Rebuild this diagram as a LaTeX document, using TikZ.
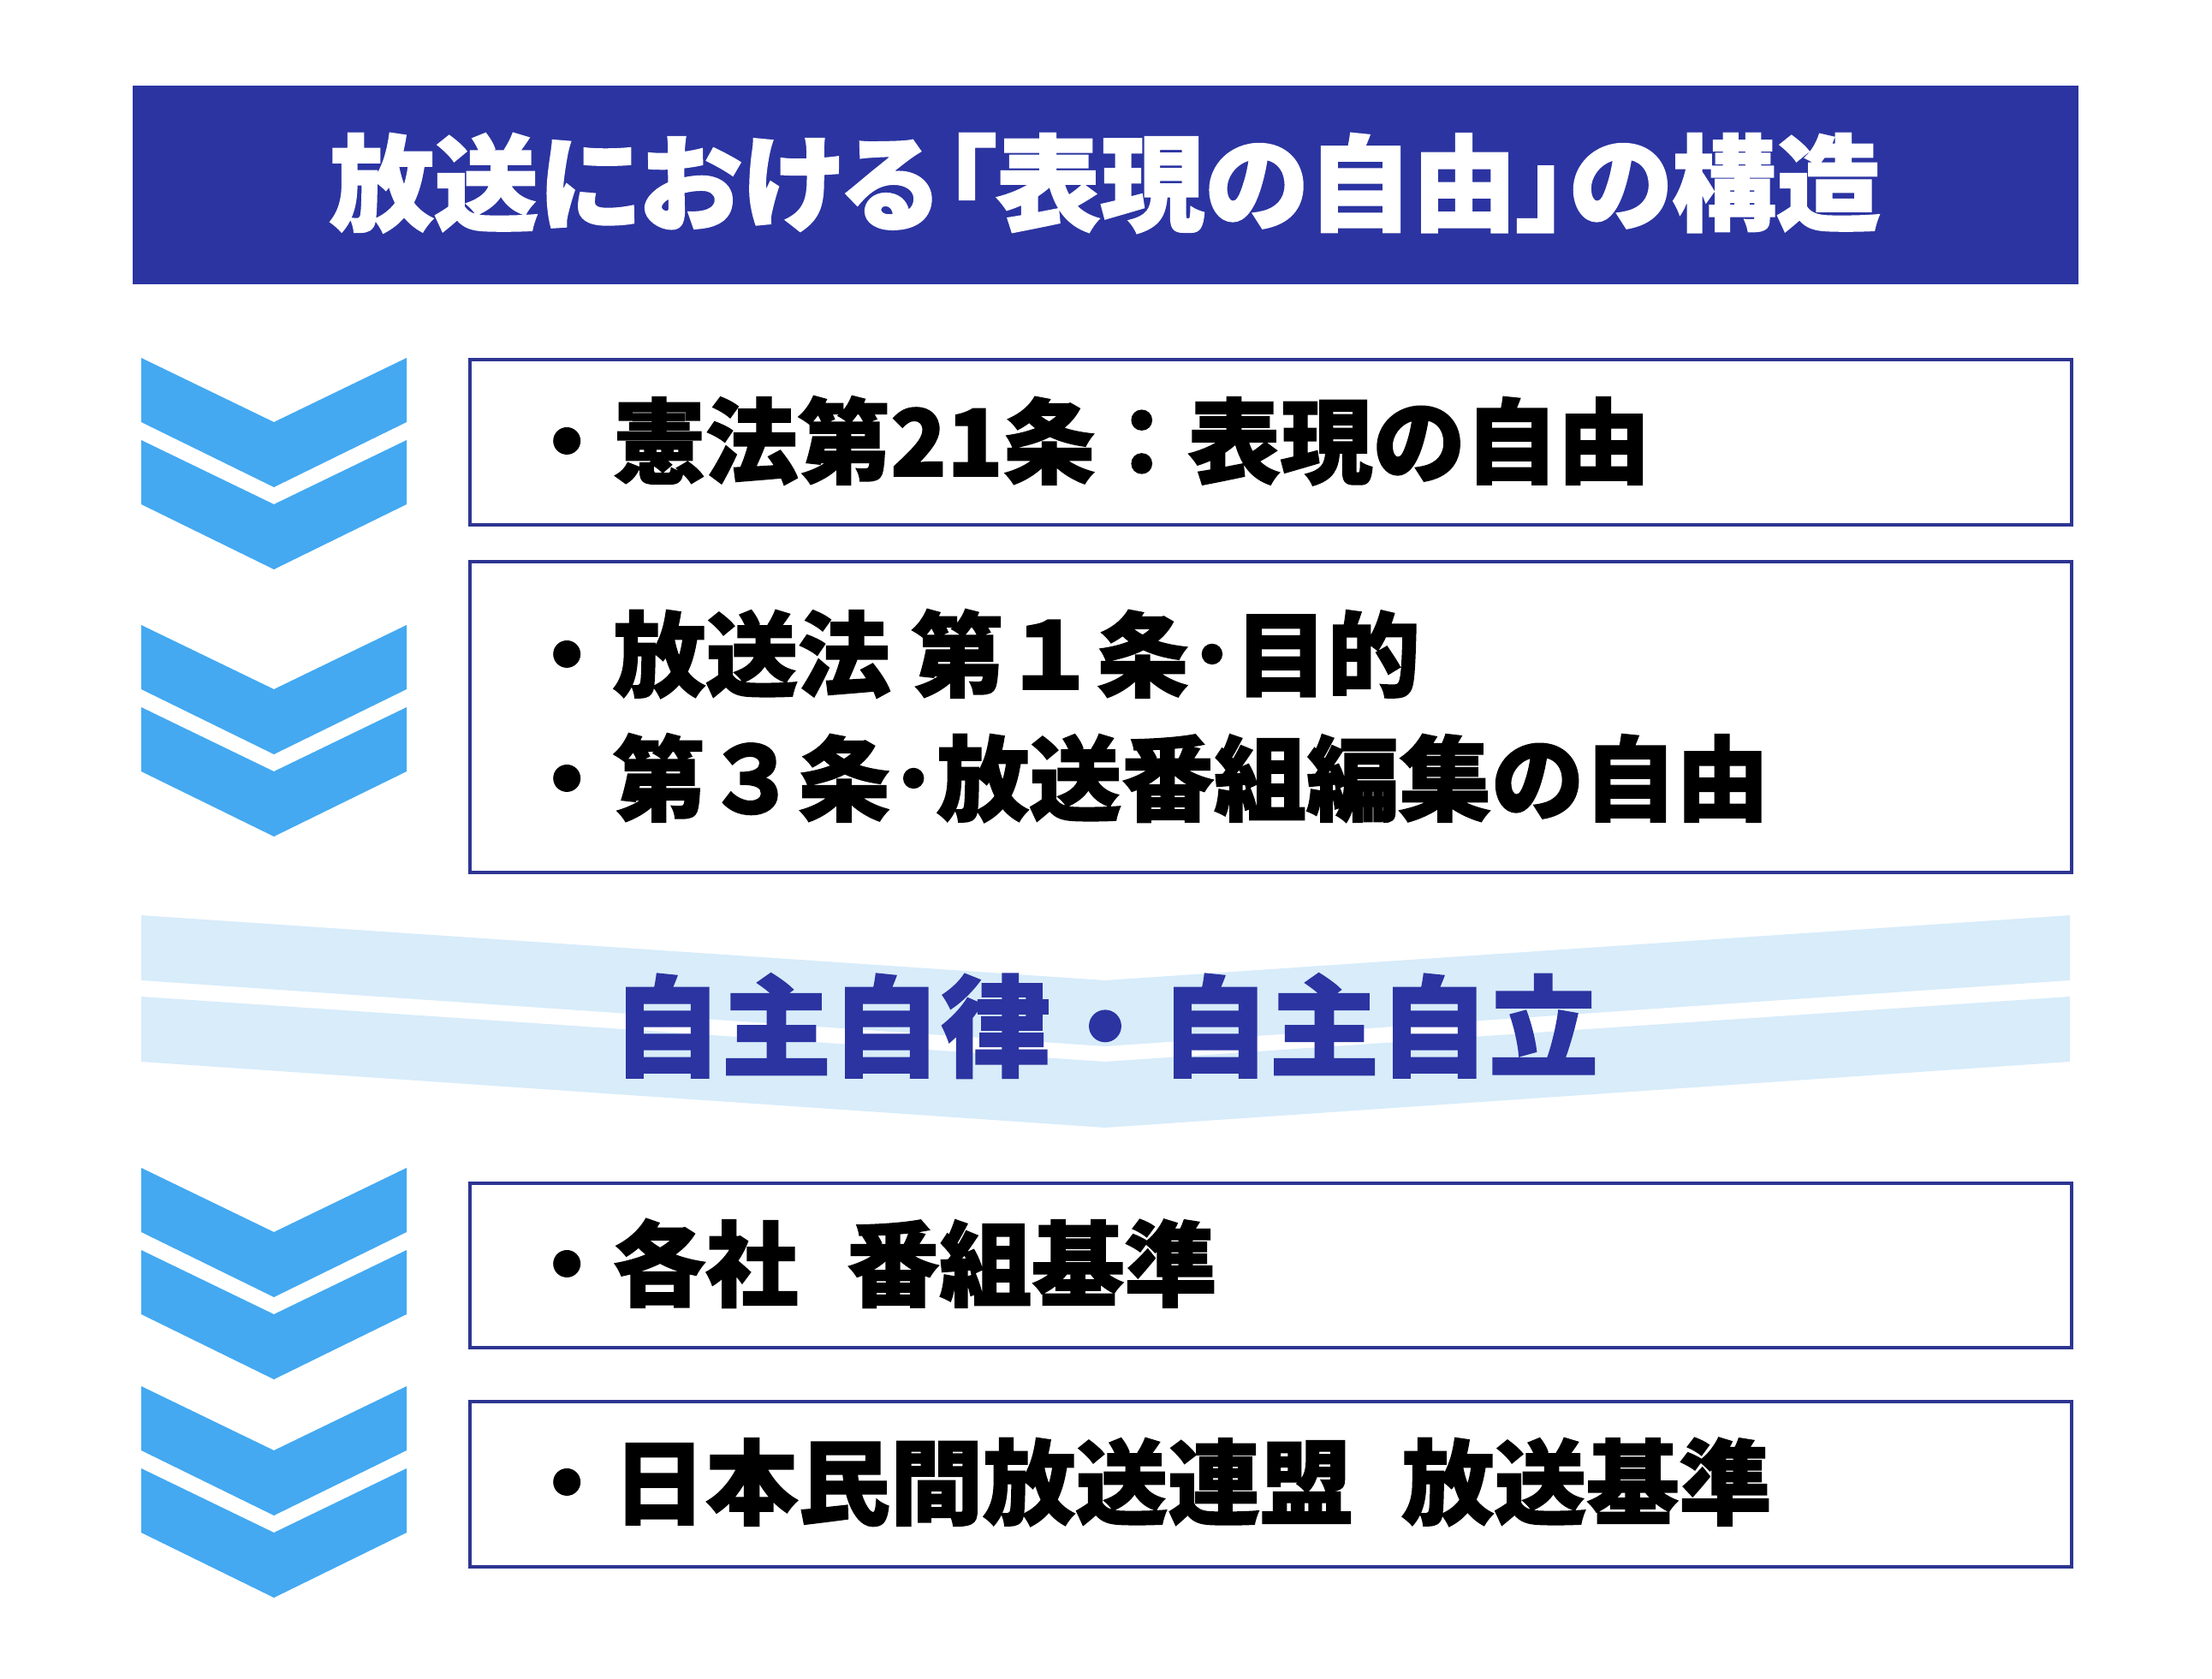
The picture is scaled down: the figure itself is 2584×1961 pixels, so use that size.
\documentclass[tikz,border=0pt]{standalone}
\usepackage{fontspec}
\newfontfamily\jpfont{Noto Sans CJK JP Black}[FakeBold=1.6]
\newfontfamily\jppalt{Noto Sans CJK JP Black}[RawFeature=+palt, FakeBold=1.6]
\definecolor{navy}{RGB}{43,52,161}
\definecolor{boxline}{RGB}{45,53,146}
\definecolor{chev}{RGB}{68,169,241}
\definecolor{band}{RGB}{216,236,250}
\tikzset{
  chevshape/.style={fill=chev, draw=none},
  bandshape/.style={fill=band, draw=none},
  framebox/.style={draw=boxline, line width=4pt, fill=white, minimum width=1871pt, inner sep=0pt, anchor=north west},
  itemtext/.style={inner sep=0pt, anchor=base west, font=\jpfont\fontsize{108}{130}\selectfont, text=black},
}
\newcommand{\chevpair}[1]{%
  \fill[chevshape] (165,#1) -- (320,#1+75) -- (475,#1) -- (475,#1+75) -- (320,#1+151) -- (165,#1+75) -- cycle;
  \fill[chevshape] (165,#1+96) -- (320,#1+171) -- (475,#1+96) -- (475,#1+171) -- (320,#1+247) -- (165,#1+171) -- cycle;
}
\begin{document}
\begin{tikzpicture}[x=1pt,y=-1pt]
\fill[white] (0,0) rectangle (2584,1961);
\useasboundingbox (0,0) rectangle (2584,1961);
% title bar
\node[fill=navy, minimum width=2273pt, minimum height=232pt, inner sep=0pt, anchor=north west] (title) at (155,100) {};
\node[inner sep=0pt, anchor=base, text=white, font=\jppalt\fontsize{122}{140}\selectfont] (titletext) at (1291,260) {放送における\hspace{0.06em}「表現の自由」の構造};
% chevrons
\chevpair{418}
\chevpair{730}
\chevpair{1364}
\chevpair{1619}
% boxes
\node[framebox, minimum height=193pt] (box1) at (547,418) {};
\node[framebox, minimum height=363pt] (box2) at (547,654) {};
\node[framebox, minimum height=192pt] (box3) at (547,1380) {};
\node[framebox, minimum height=193pt] (box4) at (547,1635) {};
\node[itemtext] (t1) at (608,556) {・憲法第21条：表現の自由};
\node[itemtext] (t2a) at (608,805) {・放送法 第１条･目的};
\node[itemtext] (t2b) at (608,950) {・第３条･放送番組編集の自由};
\node[itemtext] (t3) at (608,1517) {・各社\hspace{0.3em} 番組基準};
\node[itemtext] (t4) at (608,1772) {・日本民間放送連盟\hspace{0.3em} 放送基準};
% band
\fill[bandshape] (165,1069) -- (1291,1145) -- (2418,1069) -- (2418,1145) -- (1291,1222) -- (165,1145) -- cycle;
\fill[bandshape] (165,1164) -- (1291,1240) -- (2418,1164) -- (2418,1240) -- (1291,1317) -- (165,1240) -- cycle;
\node[inner sep=0pt, anchor=base, text=navy, font=\jpfont\fontsize{128}{150}\selectfont] (mid) at (1291,1247) {自主自律・自主自立};
\end{tikzpicture}
\end{document}
